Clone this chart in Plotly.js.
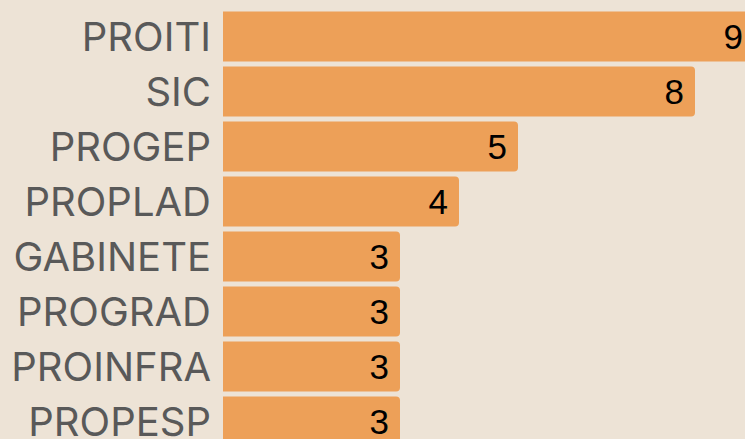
<!DOCTYPE html>
<html>
<head>
<meta charset="utf-8">
<script src="https://cdn.plot.ly/plotly-3.0.1.min.js"></script>
<style>
html, body { margin: 0; padding: 0; overflow: hidden; background: #ede3d6; }
#chart { width: 760px; height: 449px; }
</style>
</head>
<body>
<div id="chart"></div>
<script>
const categories = ["PROITI", "SIC", "PROGEP", "PROPLAD", "GABINETE", "PROGRAD", "PROINFRA", "PROPESP"];
const counts = [9, 8, 5, 4, 3, 3, 3, 3];

const trace = {
  type: 'bar',
  orientation: 'h',
  x: counts,
  y: categories,
  marker: { color: '#eda058', cornerradius: 4 },
  text: counts.map(v => String(v) + '\u2009'),
  textposition: 'inside',
  insidetextanchor: 'end',
  textfont: { family: 'Liberation Sans, Arial, sans-serif', size: 35, color: '#000000' },
  hoverinfo: 'none'
};

const layout = {
  width: 760,
  height: 449,
  margin: { l: 223, r: 6, t: 9, b: 0, pad: 0 },
  paper_bgcolor: '#ede3d6',
  plot_bgcolor: '#ede3d6',
  bargap: 0.09,
  showlegend: false,
  xaxis: {
    range: [0, 9],
    visible: false,
    showgrid: false,
    zeroline: false,
    fixedrange: true
  },
  yaxis: {
    autorange: false,
    range: [7.5, -0.5],
    showgrid: false,
    zeroline: false,
    showline: false,
    ticks: '',
    ticklabelstandoff: 11,
    automargin: false,
    tickfont: { family: 'Inter, sans-serif', size: 40, color: '#595959' }
  }
};

Plotly.newPlot('chart', [trace], layout, { staticPlot: true, displayModeBar: false });
</script>
</body>
</html>
